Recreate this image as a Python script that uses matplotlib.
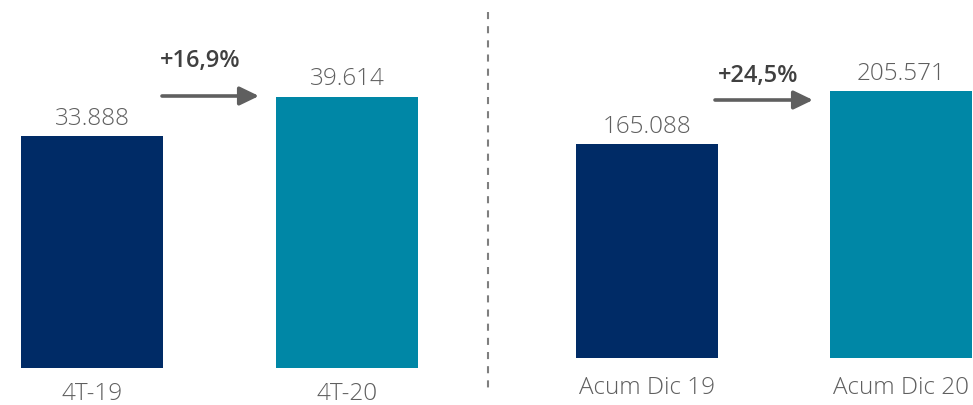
import matplotlib
matplotlib.use("Agg")
import matplotlib.pyplot as plt
from matplotlib.lines import Line2D
from matplotlib import font_manager

plt.rcParams['font.family'] = ['Open Sans', 'DejaVu Sans']
print(sorted({(f.name, f.weight) for f in font_manager.fontManager.ttflist if f.name in ('Open Sans', 'Lato', 'Roboto', 'Noto Sans', 'Inter')}))

# ---- data ----
left_categories = ["4T-19", "4T-20"]
left_values = [33.888, 39.614]
left_labels = ["33.888", "39.614"]
left_change = "+16,9%"

right_categories = ["Acum Dic 19", "Acum Dic 20"]
right_values = [165.088, 205.571]
right_labels = ["165.088", "205.571"]
right_change = "+24,5%"

colors = ["#002B66", "#0087A6"]
text_color = "#5f5f5f"
W, H = 973, 406

fig = plt.figure(figsize=(W / 100, H / 100), dpi=100)


def panel(px_left, px_right, px_bottom, centers_px, bar_w_px, cats, vals, labels,
          change, arrow_px, change_px, cat_off):
    ax = fig.add_axes([px_left / W, px_bottom / H, (px_right - px_left) / W, (H - px_bottom) / H])
    spacing = centers_px[1] - centers_px[0]
    x = [0, 1]
    ax.bar(x, vals, width=bar_w_px / spacing, color=colors)
    ax.set_xlim((px_left - centers_px[0]) / spacing, (px_right - centers_px[0]) / spacing)
    top_px_tall = arrow_px[3]
    ax.set_ylim(0, max(vals) * (H - px_bottom) / top_px_tall)
    ax.axis('off')
    for xi, v, lab, cat in zip(x, vals, labels, cats):
        ax.annotate(lab, (xi, v), xytext=(0, 12), textcoords='offset pixels',
                    ha='center', va='baseline', fontsize=17.5, color=text_color,
                    fontweight='light')
        ax.annotate(cat, (xi, 0), xytext=(0, -cat_off), textcoords='offset pixels',
                    ha='center', va='baseline', fontsize=17.5, color=text_color,
                    fontweight='light')
    x0, x1, ya, _ = arrow_px
    ax.annotate('', xy=(x1 / W, 1 - ya / H), xytext=(x0 / W, 1 - ya / H),
                xycoords='figure fraction', textcoords='figure fraction',
                arrowprops=dict(arrowstyle='-|>,head_length=0.58,head_width=0.28',
                                mutation_scale=20, lw=2.6, color=text_color,
                                shrinkA=0, shrinkB=0))
    fig.text(change_px[0] / W, 1 - change_px[1] / H, change, ha='center', va='baseline',
             fontsize=17, fontweight='semibold', color='#404040')
    return ax


panel(0, 488, H - 369, (92, 347), 142, left_categories, left_values, left_labels,
      left_change, (162, 259, 97, 271.5), (200, 67), 31)
panel(488, 973, H - 359, (647, 901), 142, right_categories, right_values, right_labels,
      right_change, (715, 813, 101, 267), (758, 82), 35)

fig.add_artist(Line2D([488 / W, 488 / W], [1 - 13 / H, 1 - 395 / H],
                      transform=fig.transFigure, color='#7f7f7f', lw=1.5,
                      linestyle=(0, (3.4, 3.4))))

fig.savefig("out.png", dpi=100)
